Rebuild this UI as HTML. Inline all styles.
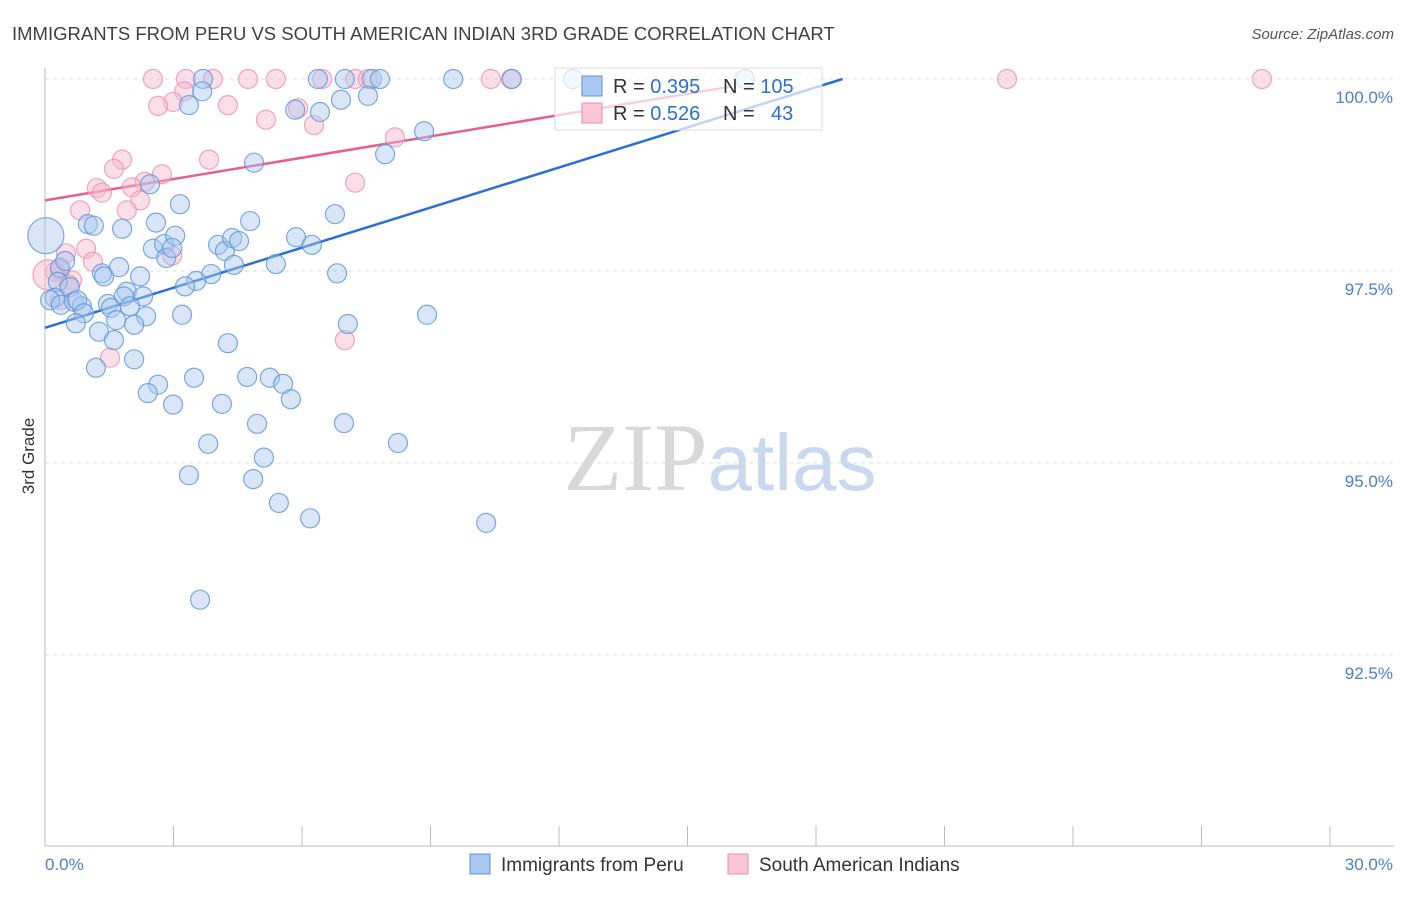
<!DOCTYPE html>
<html><head><meta charset="utf-8"><style>
body{margin:0;background:#fff;font-family:"Liberation Sans",sans-serif}
svg text{font-family:"Liberation Sans",sans-serif}
</style></head><body>
<svg id="chart" width="1406" height="892" xmlns="http://www.w3.org/2000/svg">
<text x="12" y="40" font-size="18.5" fill="#404040">IMMIGRANTS FROM PERU VS SOUTH AMERICAN INDIAN 3RD GRADE CORRELATION CHART</text>
<text x="1394" y="39" font-size="15" fill="#555" text-anchor="end" font-style="italic">Source: ZipAtlas.com</text>
<text transform="translate(34,456) rotate(-90)" font-size="17" fill="#333" text-anchor="middle">3rd Grade</text>
<text x="720" y="490" font-size="96" text-anchor="middle"><tspan fill="#d8d8d8" font-family="Liberation Serif">ZIP</tspan><tspan fill="#c8d8ef" font-size="80">atlas</tspan></text>
<g id="grid"></g><g id="axes"></g><g id="lines"></g><g id="pts"></g><g id="legend"></g>
</svg>
<script>
const yTicks=[100,97.5,95,92.5];
const yTickLabels=["100.0%","97.5%","95.0%","92.5%"];
const peruX=[3.69,6.37,7.00,7.63,7.82,9.53,10.90,12.33,16.34,3.67,3.36,5.84,6.42,6.91,7.54,7.94,8.85,4.88,2.45,3.15,1.00,1.14,1.80,2.59,4.79,6.77,0.02,2.52,2.78,3.04,2.83,4.04,4.20,4.37,4.53,5.86,6.23,2.97,0.35,0.47,1.33,1.38,1.73,2.22,3.88,3.53,3.27,4.41,5.39,6.82,0.30,0.58,0.23,0.12,0.37,0.68,0.86,0.75,1.47,1.91,1.84,2.29,1.98,1.54,2.36,0.91,0.72,1.66,2.08,3.20,7.07,8.92,1.26,1.61,4.27,2.08,1.19,3.48,4.72,5.25,5.56,5.74,2.64,2.40,2.99,4.13,6.98,4.95,3.81,8.24,5.11,3.36,4.86,5.46,6.19,10.30,3.62];
const peruY=[100,100,100,100,100,100,100,100,100,99.84,99.66,99.60,99.57,99.73,99.78,99.02,99.32,98.91,98.63,98.37,98.11,98.09,98.05,98.13,98.15,98.24,97.96,97.79,97.85,97.96,97.67,97.84,97.76,97.93,97.89,97.94,97.84,97.80,97.54,97.63,97.47,97.43,97.55,97.43,97.46,97.37,97.30,97.58,97.59,97.47,97.36,97.29,97.15,97.12,97.06,97.10,97.04,97.12,97.07,97.23,97.17,97.17,97.04,97.02,96.91,96.95,96.82,96.86,96.80,96.93,96.81,96.93,96.71,96.60,96.56,96.35,96.24,96.11,96.12,96.11,96.03,95.83,96.02,95.91,95.76,95.77,95.52,95.51,95.25,95.26,95.07,94.84,94.79,94.48,94.28,94.22,93.22];
const saiX=[2.52,3.29,3.92,4.74,5.39,6.47,7.24,7.54,10.41,10.88,22.46,28.41,3.25,2.99,2.64,4.27,5.91,5.16,6.28,8.17,3.83,1.80,1.61,2.73,2.33,1.21,1.33,2.03,2.22,1.91,0.82,7.24,0.49,0.96,2.97,1.12,0.35,0.23,0.63,0.56,0.07,7.00,1.52,0.35];
const saiY=[100,100,100,100,100,100,100,100,100,100,100,100,99.84,99.70,99.65,99.66,99.62,99.47,99.40,99.24,98.95,98.95,98.83,98.76,98.66,98.58,98.52,98.59,98.42,98.29,98.29,98.65,97.73,97.79,97.70,97.62,97.51,97.49,97.38,97.32,97.45,96.60,96.37,97.12];
const trendPeru=[96.76,0.174];
const trendSai=[98.42,0.0925];
const NS="http://www.w3.org/2000/svg";
const sx=v=>45+v*1285/30, sy=v=>79+(100-v)*76.8;
function mk(t,a,p){const e=document.createElementNS(NS,t);for(const k in a)e.setAttribute(k,a[k]);document.getElementById(p).appendChild(e);return e;}
yTicks.forEach((t,i)=>{
 const l=mk('line',{x1:45,x2:1394,y1:sy(t),y2:sy(t),stroke:'#ddd','stroke-dasharray':'4,4'},'grid');
 
 
 const tx=mk('text',{x:1393,y:sy(t)+24,'font-size':17,fill:'#4a7fd6','text-anchor':'end'},'axes');
 tx.textContent=yTickLabels[i];
 
 
});
let a=mk('line',{x1:45,x2:45,y1:68,y2:846,stroke:'#bbb'},'axes');


a=mk('line',{x1:45,x2:1394,y1:846,y2:846,stroke:'#bbb'},'axes');


for(let i=0;i<=10;i++){const t=mk('line',{x1:sx(i*3),x2:sx(i*3),y1:826,y2:846,stroke:'#bbb'},'axes');
 
 }
[["0.0%",45,'start'],["30.0%",1393,'end']].forEach(d=>{const t=mk('text',{x:d[1],y:870,'font-size':17,fill:'#4a7fd6','text-anchor':d[2]},'axes');t.textContent=d[0];
 
 });
function pts(X,Y,fill,stroke,name){X.forEach((x,i)=>{const big=(x<0.1);const c=mk('circle',{cx:sx(x),cy:sy(Y[i]),r:big?(name==='peru-point'?18:15):9.5,fill:fill,'fill-opacity':0.45,stroke:stroke,'stroke-width':1.2,'stroke-opacity':0.8},'pts');
 
 });}
pts(saiX,saiY,'#f5b8cb','#ec8fb0','sai-point');
pts(peruX,peruY,'#a9c8f0','#5b93dd','peru-point');
let x1=(100-trendPeru[0])/trendPeru[1];
let ln=mk('line',{x1:sx(0),y1:sy(trendPeru[0]),x2:sx(x1),y2:sy(100),stroke:'#2a6fd6','stroke-width':2.5},'lines');


ln=mk('line',{x1:sx(0),y1:sy(trendSai[0]),x2:sx(16),y2:sy(trendSai[0]+16*trendSai[1]),stroke:'#e8608a','stroke-width':2.5},'lines');


const L=document.getElementById('legend');
L.innerHTML=`<g>
<rect x="555" y="68" width="267" height="62" fill="#fff" fill-opacity="0.7" stroke="#ddd"/>
<rect x="582" y="76" width="20" height="20" fill="#a9c8f0" stroke="#5b93dd"/>
<rect x="582" y="103" width="20" height="20" fill="#f9c6d6" stroke="#ec8fb0"/>
<text x="613" y="93" font-size="20" fill="#333">R = <tspan fill="#2a6fd6">0.395</tspan><tspan x="723">N = </tspan><tspan fill="#2a6fd6">105</tspan></text>
<text x="613" y="120" font-size="20" fill="#333">R = <tspan fill="#2a6fd6">0.526</tspan><tspan x="723">N = </tspan><tspan x="771" fill="#2a6fd6">43</tspan></text></g>
<g>
<rect x="470" y="854" width="20" height="20" fill="#a9c8f0" stroke="#5b93dd"/>
<text x="501" y="871" font-size="19" fill="#333">Immigrants from Peru</text>
<rect x="728" y="854" width="20" height="20" fill="#f9c6d6" stroke="#ec8fb0"/>
<text x="759" y="871" font-size="19" fill="#333">South American Indians</text></g>`;
</script>
</body></html>
